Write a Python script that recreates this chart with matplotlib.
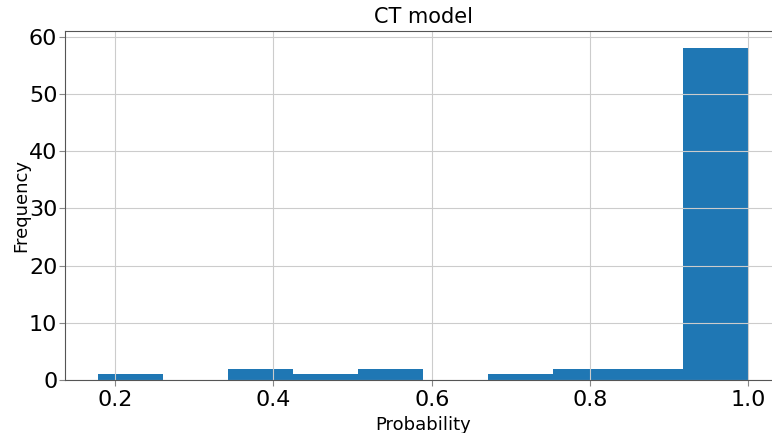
import numpy as np
import matplotlib
matplotlib.use('Agg')
import matplotlib.pyplot as plt

# histogram: 10 bins between min and max probability
p_min = 0.178
p_max = 1.0
counts = [1, 0, 2, 1, 2, 0, 1, 2, 2, 58]

edges = np.linspace(p_min, p_max, len(counts) + 1)
centers = (edges[:-1] + edges[1:]) / 2

fig = plt.figure(figsize=(7.72, 4.33), dpi=100)
ax = fig.add_axes([65/772, 53/433, 716/772, 348.5/433])
ax.hist(centers, bins=edges, weights=counts, color='#1f77b4')
ax.grid(True, color='#cccccc', linewidth=0.8)
for s in ax.spines.values():
    s.set_color('#555555')
ax.tick_params(labelsize=16, color='#888888', length=4)
ax.tick_params(axis='y', pad=1.5)
ax.set_xticks([0.2, 0.4, 0.6, 0.8, 1.0])
ax.set_xlabel('Probability', fontsize=13)
ax.set_ylabel('Frequency', fontsize=13, labelpad=-1)
ax.set_title('CT model', fontsize=15)
fig.savefig('out.png', dpi=100)
